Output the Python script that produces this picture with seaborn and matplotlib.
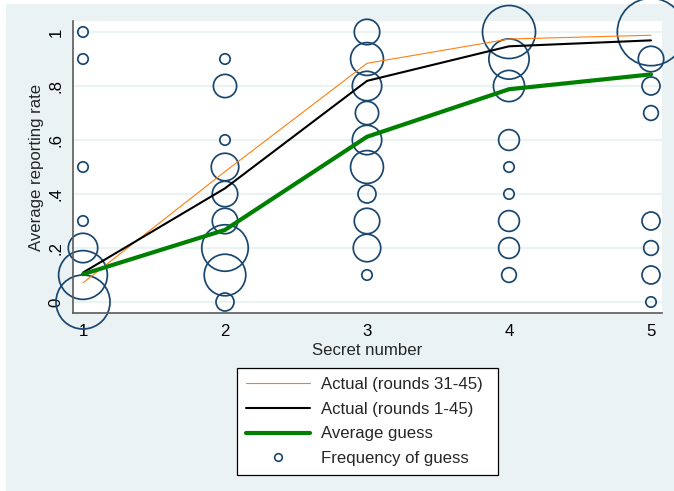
import numpy as np
import pandas as pd
import matplotlib
matplotlib.use("Agg")
import matplotlib.pyplot as plt
from matplotlib.lines import Line2D
from matplotlib.patches import Rectangle
import seaborn as sns

# Secret numbers and per-number average reporting rates
secret = [1, 2, 3, 4, 5]
actual_31_45 = [0.071, 0.483, 0.884, 0.974, 0.988]
actual_1_45 = [0.109, 0.421, 0.819, 0.947, 0.969]
avg_guess = [0.103, 0.267, 0.612, 0.788, 0.843]

# Frequency of each guessed reporting rate, by secret number
guess_secret = ([1] * 7 + [2] * 9 + [3] * 10 + [4] * 9 + [5] * 8)
guess_rate = ([0.0, 0.1, 0.2, 0.3, 0.5, 0.9, 1.0]
              + [0.0, 0.1, 0.2, 0.3, 0.4, 0.5, 0.6, 0.8, 0.9]
              + [0.1, 0.2, 0.3, 0.4, 0.5, 0.6, 0.7, 0.8, 0.9, 1.0]
              + [0.1, 0.2, 0.3, 0.4, 0.5, 0.6, 0.8, 0.9, 1.0]
              + [0.0, 0.1, 0.2, 0.3, 0.7, 0.8, 0.9, 1.0])
guess_freq = ([27, 22, 8, 1, 1, 1, 1]
              + [3, 16, 20, 6, 6, 7, 1, 5, 1]
              + [1, 7, 6, 3, 10, 8, 5, 8, 10, 6]
              + [2, 4, 4, 1, 1, 4, 9, 15, 26]
              + [1, 3, 2, 3, 2, 3, 6, 42])

y_ticks = [0, 0.2, 0.4, 0.6, 0.8, 1.0]
y_ticklabels = ["0", ".2", ".4", ".6", ".8", "1"]

freq_df = pd.DataFrame({"secret": guess_secret, "rate": guess_rate, "freq": guess_freq})

BG = "#EAF2F3"
NAVY = "#1A476F"
FONT = ["Liberation Sans", "DejaVu Sans"]
FS = 12.1

sns.set_style("white")
plt.rcParams["font.family"] = FONT

fig = plt.figure(figsize=(6.74, 4.91), dpi=100)
fig.patch.set_facecolor("white")
fig.add_artist(Rectangle((6 / 674, 0), 1 - 6 / 674, 1 - 4 / 491,
                         transform=fig.transFigure, facecolor=BG,
                         edgecolor="none", zorder=-10))

ax = fig.add_axes([73 / 674, (491 - 313) / 491, (662 - 73) / 674, (313 - 21) / 491])
ax.set_facecolor("white")

# Bubbles: marker area proportional to frequency
unit_area = 56.0
fmin, fmax = min(guess_freq), max(guess_freq)
sns.scatterplot(data=freq_df, x="secret", y="rate", size="freq",
                sizes=(unit_area * fmin, unit_area * fmax), size_norm=(fmin, fmax),
                marker="o", facecolor="none", edgecolor=NAVY, linewidth=1.25,
                legend=False, clip_on=False, zorder=2, ax=ax)

sns.lineplot(x=secret, y=actual_31_45, color="#FF7F0E", linewidth=0.8, ax=ax, zorder=3)
sns.lineplot(x=secret, y=actual_1_45, color="black", linewidth=1.5, ax=ax, zorder=4)
sns.lineplot(x=secret, y=avg_guess, color="#008000", linewidth=3.0, ax=ax, zorder=5)

ax.set_xlim(1 - 10 / 142, 5 + 11 / 142)
ax.set_ylim(-11 / 270, 1 + 11 / 270)
ax.set_xticks(secret)
ax.set_xticklabels([str(s) for s in secret], fontsize=FS)
ax.set_yticks(y_ticks)
ax.set_yticklabels(y_ticklabels, fontsize=FS, rotation=90, va="center")
ax.yaxis.grid(True, color=BG, linewidth=1.6, zorder=0)
ax.set_axisbelow(True)
for side in ("top", "right"):
    ax.spines[side].set_visible(False)
for side in ("left", "bottom"):
    ax.spines[side].set_color("#5A5A5A")
    ax.spines[side].set_linewidth(1.2)
ax.tick_params(axis="x", direction="out", length=4, width=1.0, color="#5A5A5A",
               labelcolor="black", pad=4)
ax.tick_params(axis="y", direction="out", length=4, width=1.0, color="#5A5A5A",
               labelcolor="black", pad=3)
ax.set_xlabel("Secret number", fontsize=FS, labelpad=3)
ax.set_ylabel("Average reporting rate", fontsize=FS, labelpad=3)

handles = [
    Line2D([], [], color="#FF7F0E", linewidth=0.8),
    Line2D([], [], color="black", linewidth=1.5),
    Line2D([], [], color="#008000", linewidth=3.0),
    Line2D([], [], linestyle="none", marker="o", markersize=5.5,
           markerfacecolor="none", markeredgecolor=NAVY, markeredgewidth=1.2),
]
labels = ["Actual (rounds 31-45)", "Actual (rounds 1-45)", "Average guess",
          "Frequency of guess"]
leg_top = (491 - 368) / 491
leg_h = (471 - 368) / 491
leg = fig.legend(handles, labels, loc="upper left", mode="expand",
                 bbox_to_anchor=(237 / 674, leg_top - leg_h, 261 / 674, leg_h),
                 bbox_transform=fig.transFigure, fontsize=FS, frameon=True,
                 fancybox=False, edgecolor="black", facecolor="white",
                 framealpha=1, handlelength=3.8, handletextpad=0.65,
                 labelspacing=0.57, borderpad=0.55, borderaxespad=0)
leg.get_frame().set_linewidth(0.9)

fig.savefig("out.png", dpi=100)
